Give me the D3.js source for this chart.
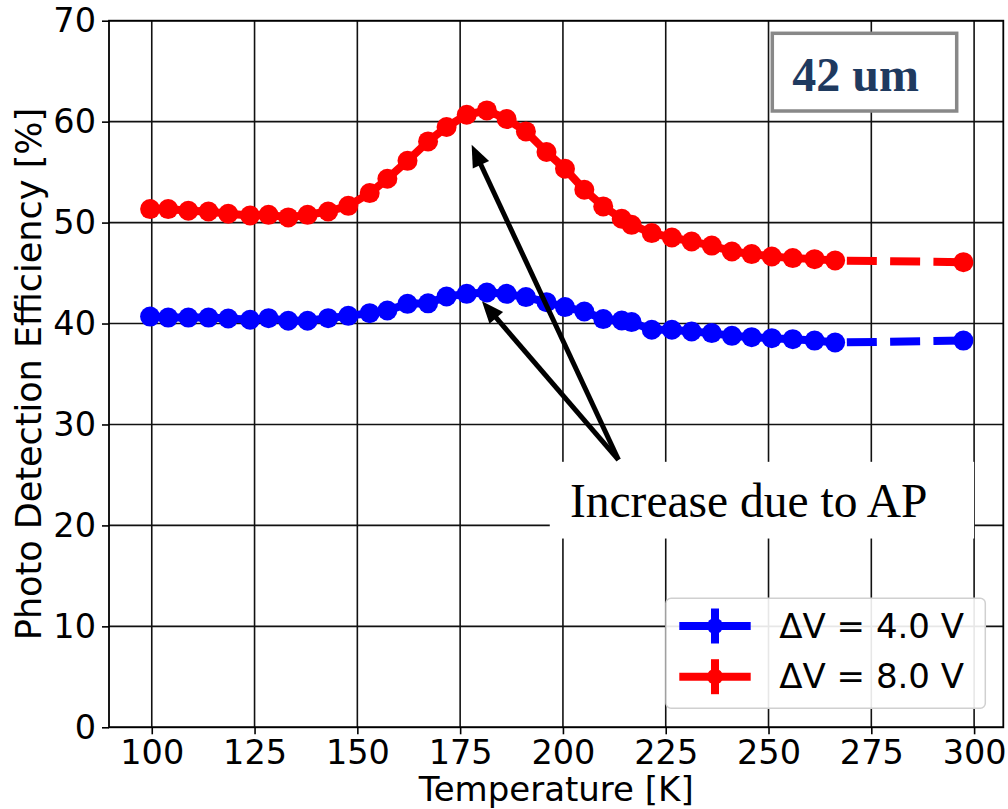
<!DOCTYPE html>
<html>
<head>
<meta charset="utf-8">
<script src="https://cdn.jsdelivr.net/npm/d3@7"></script>
<style>
  html, body { margin: 0; padding: 0; background: #fff; }
  svg { display: block; }
</style>
</head>
<body>
<svg id="chart" width="1008" height="809"></svg>
<script>
// ---- data ----
const temperatures = [99.6, 104.0, 108.9, 113.8, 118.6, 123.9, 128.4, 133.2, 137.9, 142.9, 147.8, 153.0, 157.3, 162.2, 167.2, 171.7, 176.6, 181.5, 186.3, 191.0, 196.0, 200.5, 205.2, 209.8, 214.3, 216.7, 221.6, 226.5, 231.3, 236.2, 241.1, 245.9, 250.8, 255.9, 261.2, 266.2, 297.4];
const pde4V = [40.69, 40.59, 40.59, 40.59, 40.50, 40.37, 40.53, 40.27, 40.27, 40.53, 40.76, 41.03, 41.29, 41.95, 42.00, 42.68, 42.94, 43.07, 42.94, 42.62, 42.12, 41.63, 41.19, 40.44, 40.30, 40.14, 39.38, 39.38, 39.21, 39.05, 38.78, 38.65, 38.55, 38.45, 38.31, 38.12, 38.31];
const pde8V = [51.34, 51.34, 51.17, 51.10, 50.87, 50.70, 50.77, 50.51, 50.77, 51.10, 51.66, 52.92, 54.34, 56.12, 58.04, 59.47, 60.68, 61.11, 60.26, 59.03, 56.99, 55.33, 53.25, 51.60, 50.38, 49.78, 48.96, 48.52, 48.13, 47.72, 47.14, 46.88, 46.64, 46.48, 46.38, 46.24, 46.08];
const seriesLabels = ["ΔV = 4.0 V", "ΔV = 8.0 V"];
const seriesColors = ["#0000ff", "#ff0000"];
const xTicks = [100, 125, 150, 175, 200, 225, 250, 275, 300];
const yTicks = [0, 10, 20, 30, 40, 50, 60, 70];
const xLabel = "Temperature [K]";
const yLabel = "Photo Detection Efficiency [%]";
const titleText = "42 um";
const noteText = "Increase due to AP";
// annotation arrows in data coords: [tailT, tailV, tipT, tipV]
const arrows = [[213.5, 26.5, 177.8, 57.7], [213.5, 26.5, 180.3, 42.2]];

// ---- layout ----
const L = 109, R = 1003.3, T = 20.7, B = 727.3;
const svg = d3.select("#chart");
const x = d3.scaleLinear().domain([89.6, 307.1]).range([L, R]);
const y = d3.scaleLinear().domain([0, 70]).range([B, T]);
const sans = "'DejaVu Sans', sans-serif";
const serif = "'Liberation Serif', 'Times New Roman', serif";

// grid
const grid = svg.append("g");
grid.selectAll("line.gx").data(xTicks).join("line")
  .attr("x1", d => x(d)).attr("x2", d => x(d)).attr("y1", T).attr("y2", B)
  .attr("stroke", "#111").attr("stroke-width", 1.6);
grid.selectAll("line.gy").data(yTicks).join("line")
  .attr("y1", d => y(d)).attr("y2", d => y(d)).attr("x1", L).attr("x2", R)
  .attr("stroke", "#111").attr("stroke-width", 1.6);

// axes
const xAxis = svg.append("g").attr("transform", `translate(0,${B})`)
  .call(d3.axisBottom(x).tickValues(xTicks).tickSize(7).tickPadding(6).tickFormat(d3.format("d")));
const yAxis = svg.append("g").attr("transform", `translate(${L},0)`)
  .call(d3.axisLeft(y).tickValues(yTicks).tickSize(7).tickPadding(6).tickFormat(d3.format("d")));
[xAxis, yAxis].forEach(a => {
  a.select(".domain").remove();
  a.selectAll(".tick line").attr("stroke", "#000").attr("stroke-width", 1.6);
  a.selectAll(".tick text").attr("font-family", sans).attr("font-size", 33.5).attr("fill", "#000");
});
// spines
svg.append("rect").attr("x", L).attr("y", T).attr("width", R - L).attr("height", B - T)
  .attr("fill", "none").attr("stroke", "#000").attr("stroke-width", 1.8);

// axis labels
svg.append("text").attr("x", (L + R) / 2).attr("y", 801).attr("text-anchor", "middle")
  .attr("font-family", sans).attr("font-size", 34).text(xLabel);
svg.append("text").attr("transform", `translate(41,${(T + B) / 2}) rotate(-90)`).attr("text-anchor", "middle")
  .attr("font-family", sans).attr("font-size", 35).text(yLabel);

// series
const series = [pde4V, pde8V];
const nSolid = temperatures.length - 1;
series.forEach((vals, i) => {
  const pts = temperatures.map((t, j) => [t, vals[j]]);
  const line = d3.line().x(d => x(d[0])).y(d => y(d[1]));
  const g = svg.append("g");
  g.append("path").attr("d", line(pts.slice(0, nSolid)))
    .attr("fill", "none").attr("stroke", seriesColors[i]).attr("stroke-width", 8).attr("stroke-linejoin", "round");
  g.append("path").attr("d", line(pts.slice(nSolid - 1)))
    .attr("fill", "none").attr("stroke", seriesColors[i]).attr("stroke-width", 8)
    .attr("stroke-dasharray", "30,13.3").attr("stroke-dashoffset", 31.6);
  g.selectAll("circle").data(pts).join("circle")
    .attr("cx", d => x(d[0])).attr("cy", d => y(d[1])).attr("r", 10).attr("fill", seriesColors[i]);
});

// annotation text box
const box = svg.append("g");
box.append("rect").attr("x", x(196.8)).attr("y", y(26.3)).attr("width", x(300.0) - x(196.8)).attr("height", y(18.7) - y(26.3))
  .attr("fill", "#fff");
box.append("text").attr("x", x(201.7)).attr("y", y(20.81)).attr("font-family", serif).attr("font-size", 47.5)
  .attr("fill", "#000").text(noteText);

// arrows
arrows.forEach(a => {
  const x0 = x(a[0]), y0 = y(a[1]), x1 = x(a[2]), y1 = y(a[3]);
  const dx = x1 - x0, dy = y1 - y0, len = Math.hypot(dx, dy);
  const ux = dx / len, uy = dy / len;
  const hl = 22, hw = 9;
  const bx = x1 - ux * hl, by = y1 - uy * hl;
  svg.append("line").attr("x1", x0).attr("y1", y0).attr("x2", bx + ux * 2).attr("y2", by + uy * 2)
    .attr("stroke", "#000").attr("stroke-width", 5);
  svg.append("path").attr("d", `M${x1},${y1}L${bx - uy * hw},${by + ux * hw}L${bx + uy * hw},${by - ux * hw}Z`)
    .attr("fill", "#000");
});

// title box
svg.append("rect").attr("x", 772.3).attr("y", 33.3).attr("width", 184.4).attr("height", 77.7)
  .attr("fill", "#fff").attr("stroke", "#888").attr("stroke-width", 3.5);
svg.append("text").attr("x", 792.3).attr("y", 90.7).attr("font-family", serif).attr("font-weight", "bold")
  .attr("font-size", 48).attr("fill", "#1f3a5f").text(titleText);

// legend
const lg = svg.append("g");
lg.append("rect").attr("x", 666).attr("y", 598.3).attr("width", 319.3).attr("height", 110).attr("rx", 5)
  .attr("fill", "#fff").attr("fill-opacity", 0.9).attr("stroke", "#d0d0d0").attr("stroke-width", 1.5);
seriesLabels.forEach((lab, i) => {
  const cy = 626 + i * 50.7;
  lg.append("line").attr("x1", 679.3).attr("x2", 750.7).attr("y1", cy).attr("y2", cy)
    .attr("stroke", seriesColors[i]).attr("stroke-width", 8);
  lg.append("line").attr("x1", 715).attr("x2", 715).attr("y1", cy - 17.5).attr("y2", cy + 17.5)
    .attr("stroke", seriesColors[i]).attr("stroke-width", 8);
  lg.append("circle").attr("cx", 715).attr("cy", cy).attr("r", 8).attr("fill", seriesColors[i]);
  lg.append("text").attr("x", 779.3).attr("y", cy + 11.5).attr("font-family", sans).attr("font-size", 34)
    .attr("fill", "#000").text(lab);
});
</script>
</body>
</html>
